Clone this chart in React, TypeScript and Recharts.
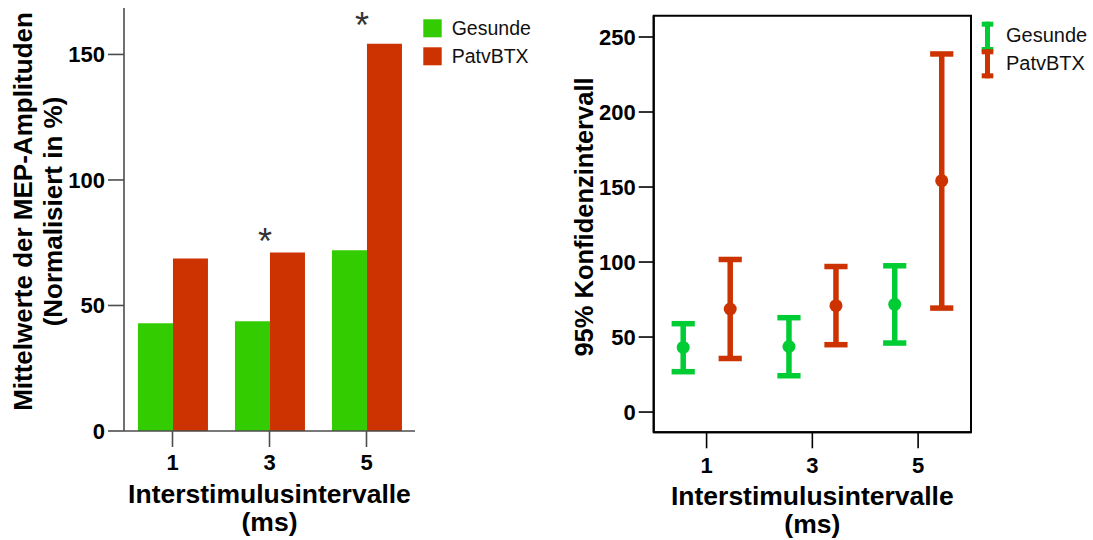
import React from 'react';
import {
  ComposedChart,
  Bar,
  XAxis,
  YAxis,
  Legend,
  Scatter,
  ErrorBar,
  ReferenceArea,
} from 'recharts';

// ---------- data ----------
const categories = ['1', '3', '5'];
const gesundeMeans = [42.9, 43.7, 72.0];
const patvMeans = [68.7, 71.1, 154.3];
const asteriskLevels: (number | null)[] = [null, 79, 165.3];

const gesundeCiMean = [43.1, 43.7, 71.8];
const gesundeCiLow = [26.9, 24.2, 46.0];
const gesundeCiHigh = [58.9, 62.9, 97.5];
const patvCiMean = [68.7, 70.9, 154.2];
const patvCiLow = [35.7, 44.9, 69.3];
const patvCiHigh = [101.7, 97.0, 238.7];

const leftTicks = [0, 50, 100, 150];
const rightTicks = [0, 50, 100, 150, 200, 250];
const leftDomain = [0, 168.5];
const rightDomain = [-13.5, 264.2];

const seriesNames = ['Gesunde', 'PatvBTX'];

// ---------- styles ----------
const FONT = 'Liberation Sans, Arial, Helvetica, sans-serif';
const BAR_GREEN = '#33cc00';
const BAR_RED = '#cc3300';
const CI_GREEN = '#00cc33';
const CI_RED = '#cc3300';

const barData = categories.map((c, i) => ({
  isi: c,
  gesunde: gesundeMeans[i],
  patv: patvMeans[i],
  star: asteriskLevels[i],
}));

const ciData = categories.map((c, i) => ({
  isi: c,
  gMean: gesundeCiMean[i],
  gErr: [gesundeCiMean[i] - gesundeCiLow[i], gesundeCiHigh[i] - gesundeCiMean[i]],
  pMean: patvCiMean[i],
  pErr: [patvCiMean[i] - patvCiLow[i], patvCiHigh[i] - patvCiMean[i]],
}));

const tickStyle = { fill: '#000', fontSize: 22, fontWeight: 'bold', fontFamily: FONT };

const makeXLabel = (b1: number, b2: number) => (props: any) => {
  const vb = props.viewBox || {};
  const cx = vb.x + vb.width / 2;
  return (
    <text textAnchor="middle" fontFamily={FONT} fontWeight="bold" fontSize={26.5} fill="#000">
      <tspan x={cx} y={vb.y + b1}>Interstimulusintervalle</tspan>
      <tspan x={cx} y={vb.y + b2}>(ms)</tspan>
    </text>
  );
};

const LeftYLabel = (props: any) => {
  const vb = props.viewBox || {};
  const cy = vb.y + vb.height / 2 - 8;
  return (
    <text
      transform={`translate(32, ${cy}) rotate(-90)`}
      textAnchor="middle"
      fontFamily={FONT}
      fontWeight="bold"
      fontSize={26}
      fill="#000"
    >
      <tspan x={0} y={0}>Mittelwerte der MEP-Amplituden</tspan>
      <tspan x={0} y={30}>(Normalisiert in %)</tspan>
    </text>
  );
};

const RightYLabel = (props: any) => {
  const vb = props.viewBox || {};
  const cy = vb.y + vb.height / 2 - 7;
  return (
    <text
      transform={`translate(33, ${cy}) rotate(-90)`}
      textAnchor="middle"
      fontFamily={FONT}
      fontWeight="bold"
      fontSize={25.5}
      fill="#000"
    >
      <tspan x={0} y={0}>95% Konfidenzintervall</tspan>
    </text>
  );
};

const AsteriskShape = (props: any) => {
  const { cx, cy, payload } = props;
  if (payload == null || payload.star == null || !isFinite(cy)) return <g />;
  const fs = 36;
  return (
    <text x={cx - 4.5} y={cy + fs * 0.6} textAnchor="middle" fontFamily={FONT} fontSize={fs} fill="#333">
      *
    </text>
  );
};

const DotShape = (color: string) => (props: any) => {
  const { x, y, width } = props;
  if (!isFinite(x) || !isFinite(y)) return <g />;
  return <circle cx={x + width / 2} cy={y} r={6.5} fill={color} />;
};

const BarLegend = () => (
  <svg width={150} height={70}>
    <rect x={13.3} y={9.3} width={18.4} height={18} fill={BAR_GREEN} />
    <rect x={13.3} y={37.3} width={18.4} height={18} fill={BAR_RED} />
    <text x={41.7} y={18.3} dominantBaseline="central" fontFamily={FONT} fontSize={19.5} fill="#111">
      {seriesNames[0]}
    </text>
    <text x={41.7} y={46.3} dominantBaseline="central" fontFamily={FONT} fontSize={19.5} fill="#111">
      {seriesNames[1]}
    </text>
  </svg>
);

const CiLegend = () => {
  const cx = 17.5;
  const cw = 11.6;
  const sw = 5;
  const icon = (top: number, bottom: number, color: string) => (
    <g>
      <line x1={cx} x2={cx} y1={top} y2={bottom} stroke={color} strokeWidth={sw} />
      <line x1={cx - cw / 2} x2={cx + cw / 2} y1={top + 2.5} y2={top + 2.5} stroke={color} strokeWidth={sw} />
      <line x1={cx - cw / 2} x2={cx + cw / 2} y1={bottom - 2.5} y2={bottom - 2.5} stroke={color} strokeWidth={sw} />
    </g>
  );
  return (
    <svg width={123} height={75}>
      {icon(11.7, 42, CI_GREEN)}
      {icon(39.3, 68.3, CI_RED)}
      <text x={36} y={25} dominantBaseline="central" fontFamily={FONT} fontSize={20} fill="#111">
        {seriesNames[0]}
      </text>
      <text x={36} y={53.3} dominantBaseline="central" fontFamily={FONT} fontSize={20} fill="#111">
        {seriesNames[1]}
      </text>
    </svg>
  );
};

export default function App() {
  const leftAxisColor = '#4d4d4d';
  return (
    <div style={{ position: 'absolute', left: 0, top: 0, width: 1093, height: 540, background: '#fff' }}>
      <div style={{ position: 'absolute', left: 0, top: 0 }}>
        <ComposedChart
          width={560}
          height={540}
          data={barData}
          margin={{ top: 8, right: 145, bottom: 0, left: 0 }}
          barCategoryGap="14.4%"
          barGap={0}
        >
          <XAxis
            dataKey="isi"
            height={109}
            tickSize={16}
            tickMargin={7}
            axisLine={{ stroke: leftAxisColor, strokeWidth: 1.6 }}
            tickLine={{ stroke: leftAxisColor, strokeWidth: 1.6 }}
            tick={tickStyle}
            label={{ content: makeXLabel(72, 99.5) }}
          />
          <YAxis
            width={124}
            domain={leftDomain}
            ticks={leftTicks}
            allowDataOverflow
            tickSize={16}
            tickMargin={3}
            axisLine={{ stroke: leftAxisColor, strokeWidth: 1.6 }}
            tickLine={{ stroke: leftAxisColor, strokeWidth: 1.6 }}
            tick={tickStyle}
            label={{ content: LeftYLabel }}
          />
          <Bar dataKey="gesunde" name={seriesNames[0]} fill={BAR_GREEN} isAnimationActive={false} />
          <Bar dataKey="patv" name={seriesNames[1]} fill={BAR_RED} isAnimationActive={false} />
          <Scatter dataKey="star" shape={AsteriskShape} isAnimationActive={false} legendType="none" />
          <Legend
            layout="vertical"
            align="center"
            verticalAlign="middle"
            wrapperStyle={{ left: 410, top: 10, width: 150, height: 70 }}
            content={BarLegend}
          />
        </ComposedChart>
      </div>
      <div style={{ position: 'absolute', left: 560, top: 0 }}>
        <ComposedChart
          width={533}
          height={540}
          data={ciData}
          margin={{ top: 15.7, right: 122, bottom: 0, left: 0 }}
          barGap={0}
          barSize={47}
        >
          <XAxis
            dataKey="isi"
            height={107.7}
            tickSize={16}
            tickMargin={9}
            axisLine={{ stroke: '#000', strokeWidth: 2 }}
            tickLine={{ stroke: '#000', strokeWidth: 1.6 }}
            tick={tickStyle}
            label={{ content: makeXLabel(72.7, 100.2) }}
          />
          <YAxis
            width={93.7}
            domain={rightDomain}
            ticks={rightTicks}
            allowDataOverflow
            tickSize={15}
            tickMargin={3}
            axisLine={{ stroke: '#000', strokeWidth: 2 }}
            tickLine={{ stroke: '#000', strokeWidth: 1.6 }}
            tick={tickStyle}
            label={{ content: RightYLabel }}
          />
          <ReferenceArea
            x1={categories[0]}
            x2={categories[categories.length - 1]}
            y1={rightDomain[0]}
            y2={rightDomain[1]}
            fill="none"
            fillOpacity={0}
            stroke="#000"
            strokeWidth={2}
            strokeOpacity={1}
            ifOverflow="visible"
          />
          <Bar dataKey="gMean" name={seriesNames[0]} fill={CI_GREEN} shape={DotShape(CI_GREEN)} isAnimationActive={false}>
            <ErrorBar dataKey="gErr" width={11.6} strokeWidth={5.5} stroke={CI_GREEN} isAnimationActive={false} />
          </Bar>
          <Bar dataKey="pMean" name={seriesNames[1]} fill={CI_RED} shape={DotShape(CI_RED)} isAnimationActive={false}>
            <ErrorBar dataKey="pErr" width={11.6} strokeWidth={5.5} stroke={CI_RED} isAnimationActive={false} />
          </Bar>
          <Legend
            layout="vertical"
            align="center"
            verticalAlign="middle"
            wrapperStyle={{ left: 410, top: 10, width: 123, height: 75 }}
            content={CiLegend}
          />
        </ComposedChart>
      </div>
    </div>
  );
}
